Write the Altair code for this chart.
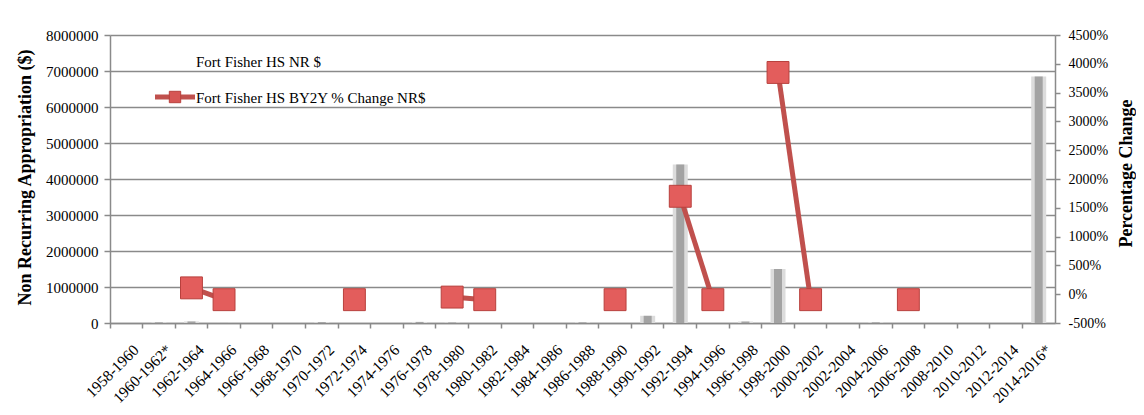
import altair as alt
import pandas as pd

periods = ["1958-1960", "1960-1962*", "1962-1964", "1964-1966", "1966-1968", "1968-1970",
           "1970-1972", "1972-1974", "1974-1976", "1976-1978", "1978-1980", "1980-1982",
           "1982-1984", "1984-1986", "1986-1988", "1988-1990", "1990-1992", "1992-1994",
           "1994-1996", "1996-1998", "1998-2000", "2000-2002", "2002-2004", "2004-2006",
           "2006-2008", "2008-2010", "2010-2012", "2012-2014", "2014-2016*"]

nr_dollars = [0, 20000, 42000, 2000, 0, 0,
              25000, 0, 0, 30000, 15000, 0,
              0, 0, 20000, 0, 200000, 4400000,
              0, 40000, 1500000, 0, 0, 20000,
              0, 0, 0, 0, 6850000]

pct_change = [None, None, 110, -95, None, None,
              None, -95, None, None, -50, -95,
              None, None, None, -95, None, 1700,
              -95, None, 3850, -95, None, None,
              -95, None, None, None, None]

left_ticks = [0, 1000000, 2000000, 3000000, 4000000, 5000000, 6000000, 7000000, 8000000]
right_ticks = [-500, 0, 500, 1000, 1500, 2000, 2500, 3000, 3500, 4000, 4500]

bar_label = "Fort Fisher HS NR $"
line_label = "Fort Fisher HS BY2Y % Change NR$"

# segment ids so the line breaks at missing values
seg, s, prev = [], 0, False
for v in pct_change:
    cur = v is not None
    if cur and not prev:
        s += 1
    seg.append(s if cur else None)
    prev = cur

bars_df = pd.DataFrame({"period": periods, "nr": nr_dollars})
line_df = pd.DataFrame({"period": periods, "pct": pct_change, "seg": seg}).dropna()

FONT = "Liberation Serif"
GRID = "#8a8a8a"
RED = "#c0504d"
W, H = 945, 288

xscale = alt.Scale(domain=periods, paddingInner=0, paddingOuter=0)
xaxis = alt.Axis(labelAngle=315, labelFont=FONT, labelFontSize=15.5, labelColor="#000",
                 bandPosition=0, labelOffset=5, labelPadding=14,
                 tickSize=5, tickColor=GRID, domainColor=GRID, domainWidth=1.5,
                 tickWidth=1.5, labelAlign="right", labelBaseline="top", grid=False)
xenc = alt.X("period:N", scale=xscale, sort=periods, title=None, axis=xaxis)

laxis = alt.Axis(values=left_ticks, format="d", title="Non Recurring Appropriation ($)",
                 titleFont=FONT, titleFontSize=18, titleFontWeight="bold",
                 titleX=-85, titleY=142, titleBaseline="middle", titleAngle=270,
                 labelFont=FONT, labelFontSize=15, labelColor="#000", labelOverlap=False,
                 tickSize=6, labelPadding=6, tickColor=GRID, domainColor=GRID,
                 domainWidth=1.5, tickWidth=1.5,
                 grid=True, gridColor=GRID, gridWidth=1.6, gridOpacity=1)
ly = alt.Y("nr:Q", scale=alt.Scale(domain=[0, 8000000], nice=False), axis=laxis)

raxis = alt.Axis(orient="right", values=right_ticks, labelExpr="datum.value + '%'",
                 title="Percentage Change", titleFont=FONT, titleFontSize=18,
                 titleFontWeight="bold", titleAngle=270, titleX=71, titleY=138,
                 titleBaseline="middle", labelOverlap=False,
                 labelFont=FONT, labelFontSize=14, labelColor="#000",
                 tickSize=5, labelPadding=8, tickColor=GRID, domainColor=GRID,
                 domainWidth=1.5, tickWidth=1.5, grid=False)
ry = alt.Y("pct:Q", scale=alt.Scale(domain=[-500, 4500], nice=False), axis=raxis)

bars_outer = alt.Chart(bars_df).mark_bar(size=15, color="#dcdcdc").encode(x=xenc, y=ly)
bars_inner = alt.Chart(bars_df).mark_bar(size=8, color="#a3a3a3").encode(x=xenc, y=ly)

line = alt.Chart(line_df).mark_line(color=RED, strokeWidth=5).encode(
    x=xenc, y=ry, detail="seg:N")
points = alt.Chart(line_df).mark_point(shape="square", size=480, filled=True, fill="#e35d5c",
                                       stroke="#b8403d", strokeWidth=1, opacity=1).encode(
    x=xenc, y=ry)

one = alt.Data(values=[{"a": 1}])
frame = alt.Chart(one).mark_rect(fill=None, stroke="#9a9a9a", strokeWidth=1.5).encode(
    x=alt.value(-103), x2=alt.value(1200), y=alt.value(-30), y2=alt.value(420))

leg_text1 = alt.Chart(one).mark_text(font=FONT, fontSize=15, align="left", baseline="middle",
                                      color="#000").encode(
    x=alt.value(86), y=alt.value(27), text=alt.value(bar_label))
leg_text2 = alt.Chart(one).mark_text(font=FONT, fontSize=15, align="left", baseline="middle",
                                      color="#000").encode(
    x=alt.value(86), y=alt.value(63), text=alt.value(line_label))
leg_line = alt.Chart(one).mark_rule(color=RED, strokeWidth=5).encode(
    x=alt.value(45), x2=alt.value(85), y=alt.value(62))
leg_pt = alt.Chart(one).mark_point(shape="square", size=130, filled=True, fill="#d65654",
                                   stroke="#b8403d", strokeWidth=1, opacity=1).encode(
    x=alt.value(65), y=alt.value(62))

left_layer = alt.layer(bars_outer, bars_inner)
right_layer = alt.layer(line, points)

chart = alt.layer(frame, left_layer, right_layer, leg_text1, leg_line, leg_pt, leg_text2).resolve_scale(
    y="independent").properties(
    width=W, height=H,
    autosize=alt.AutoSizeParams(type="none"),
    padding={"left": 102, "top": 27, "right": 81, "bottom": 80},
    background="white",
).configure_view(stroke=None)

chart.save("out.html", embed_options={"renderer": "svg", "actions": False})
